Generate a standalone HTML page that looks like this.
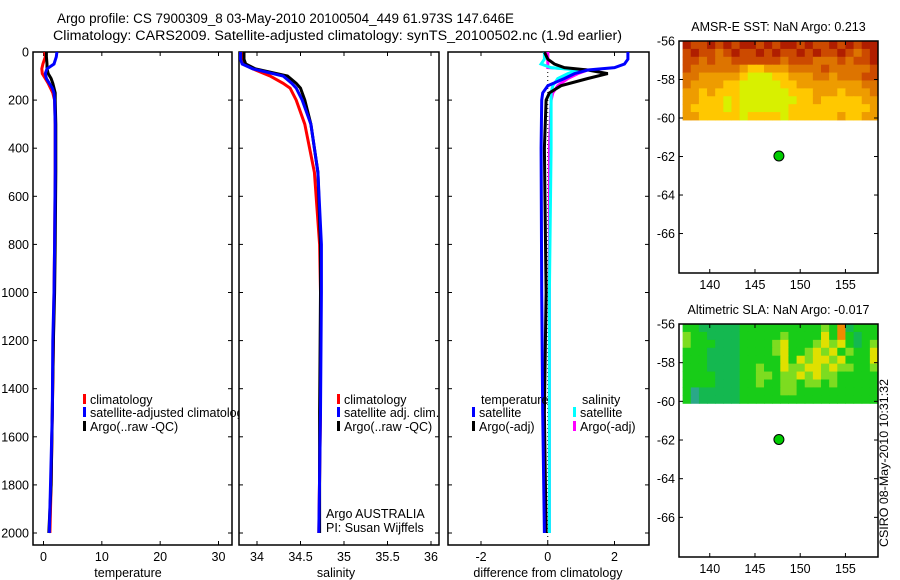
<!DOCTYPE html>
<html><head><meta charset="utf-8">
<style>
body{margin:0;background:#fff;}
svg{display:block;font-family:"Liberation Sans",sans-serif;}
text{fill:#000;}
</style></head>
<body>
<svg id="fig" width="900" height="580" xmlns="http://www.w3.org/2000/svg">
<text x="57" y="23" font-size="13.5" textLength="457" lengthAdjust="spacingAndGlyphs">Argo profile: CS 7900309_8 03-May-2010 20100504_449 61.973S 147.646E</text>
<text x="53" y="40" font-size="13.5" textLength="569" lengthAdjust="spacingAndGlyphs">Climatology: CARS2009. Satellite-adjusted climatology: synTS_20100502.nc (1.9d earlier)</text>
<g id="g1"></g>
<g id="g2"></g>
<g id="g3"></g>
<g id="m1"></g>
<g id="m2"></g>
<text transform="translate(888,463) rotate(-90)" font-size="12" text-anchor="middle" textLength="168" lengthAdjust="spacingAndGlyphs">CSIRO 08-May-2010 10:31:32</text>
</svg>
<script>
// ---- data ----
const depthT = [0,20,50,70,90,110,130,150,170,200,300,500,800,1000,1200,1500,1800,2000];
const tempClim = [0.2,0.3,-0.1,-0.3,-0.2,0.3,0.8,1.2,1.6,1.9,2.0,2.0,1.9,1.8,1.7,1.5,1.3,1.1];
const tempSat = [2.3,2.2,1.8,0.6,0.3,0.5,1.0,1.5,1.8,1.9,2.0,2.0,1.9,1.8,1.6,1.5,1.2,1.0];
const tempArgo = [0.5,0.5,0.6,0.6,0.8,1.3,1.6,1.8,2.0,2.0,2.1,2.1,2.0,1.9,1.7,1.5,1.3,0.9];
const depthS = [0,30,50,70,100,130,150,200,300,500,800,1000,1500,2000];
const salClim = [33.82,33.82,33.85,33.95,34.15,34.3,34.38,34.45,34.55,34.66,34.72,34.73,34.73,34.71];
const salSat = [33.81,33.81,33.83,33.95,34.3,34.4,34.45,34.52,34.62,34.7,34.74,34.74,34.73,34.71];
const salArgo = [33.85,33.85,33.87,33.98,34.35,34.45,34.5,34.55,34.62,34.70,34.73,34.73,34.72,34.72];
const depthD = [0,30,50,65,75,90,110,140,170,200,400,1000,1500,2000];
const dTempSat = [2.4,2.4,2.3,2.0,1.2,0.8,0.5,0.0,-0.15,-0.18,-0.2,-0.18,-0.15,-0.1];
const dTempArgo = [-0.1,0.0,0.2,0.5,1.2,1.8,1.2,0.4,0.05,-0.05,-0.1,-0.05,-0.1,-0.05];
const dSalSat = [-0.1,-0.1,-0.2,0.1,0.9,0.6,0.3,0.15,0.1,0.1,0.1,0.05,0.05,0.05];
const dSalArgo = [0.0,0.0,0.0,0.0,1.2,0.9,0.6,0.3,0.15,0.1,0.05,0.05,0.05,0.05];
const depthTicks = [0,200,400,600,800,1000,1200,1400,1600,1800,2000];
const tempTicks = [0,10,20,30];
const salTicks = [34,34.5,35,35.5,36];
const salTickLabels = ["34","34.5","35","35.5","36"];
const diffTicks = [-2,0,2];
const latTicks = [-56,-58,-60,-62,-64,-66];
const lonTicks = [140,145,150,155];
const floatLon = 147.646, floatLat = -61.973;
const sstGrid = [
"011010100101001011010100","101121011010110101101210","112122111111211122212110",
"122222234433322221222221","223333345554433322322211","233334455555443333333322",
"334344455555544433343332","334445455555554434444433","344445455555544444444443",
"334444454444544444434433"];
const slaGrid = [
"221111122222222223251222","322111122222322224252122","322211122223422234342123",
"222111122223422343423224","222111122222424344342224","222111122322433443433223",
"222211122332334343322222","222211122322332332322222","201111122222332222222222",
"201111122222222222222222"];
const sstColors = ["#b01e00","#cc4a00","#dd7400","#ee9c00","#ffc800","#d8f000"];
const slaColors = ["#2aa888","#14b850","#18cc18","#7ddc20","#e0e000","#ee8a00"];
// ---- helpers ----
const NS="http://www.w3.org/2000/svg";
function mk(tag,attrs,parent){const e=document.createElementNS(NS,tag);for(const k in attrs)e.setAttribute(k,attrs[k]);parent.appendChild(e);return e;}
function lin(d0,d1,r0,r1){return v=>r0+(v-d0)*(r1-r0)/(d1-d0);}
const yD = lin(0,2000,52,533);
function frame(g,x0,x1,y0,y1){
  const r=mk('rect',{x:x0,y:y0,width:x1-x0,height:y1-y0,fill:'none',stroke:'#000','stroke-width':1.5},g);
  
  
}
function xticks(g,xs,vals,labels,y0,y1){
  vals.forEach((v,i)=>{const x=xs(v);
    mk('line',{x1:x,x2:x,y1:y1,y2:y1-4,stroke:'#000'},g);
    mk('line',{x1:x,x2:x,y1:y0,y2:y0+4,stroke:'#000'},g);
    const t=mk('text',{x:x,y:y1+16,'font-size':12.5,'text-anchor':'middle'},g);
    t.textContent=labels[i];
    
    
  });
}
function yticks(g,ys,vals,x0,x1,labels){
  vals.forEach((v,i)=>{const y=ys(v);
    mk('line',{x1:x0,x2:x0+4,y1:y,y2:y,stroke:'#000'},g);
    mk('line',{x1:x1,x2:x1-4,y1:y,y2:y,stroke:'#000'},g);
    if(labels){const t=mk('text',{x:x0-4,y:y+4.5,'font-size':12.5,'text-anchor':'end'},g);
      t.textContent=labels[i];
      
      }
  });
}
function line(g,xs,vals,depths,color,name){
  const pts=vals.map((v,i)=>xs(v).toFixed(1)+','+yD(depths[i]).toFixed(1)).join(' ');
  const p=mk('polyline',{points:pts,fill:'none',stroke:color,'stroke-width':3},g);
  
  
}
function label(g,x,y,txt,name,size,anchor){
  const t=mk('text',{x:x,y:y,'font-size':size||12.5,'text-anchor':anchor||'start'},g);
  t.textContent=txt;
  
  
}
function legendEntry(g,x,y,color,txt){
  mk('rect',{x:x,y:y-10,width:3,height:10,fill:color},g);
  const t=mk('text',{x:x+7,y:y,'font-size':12.5},g);
  t.textContent=txt;
  
  
}
// ---- panel 1 ----
const g1=document.getElementById('g1');
const xT=lin(0,30,43.5,218.5);
frame(g1,33,232,52,545);
yticks(g1,yD,depthTicks,33,232,depthTicks.map(String));
xticks(g1,xT,tempTicks,tempTicks.map(String),52,545);
line(g1,xT,tempClim,depthT,'#ff0000','temp-climatology-line');
line(g1,xT,tempArgo,depthT,'#000000','temp-argo-line');
line(g1,xT,tempSat,depthT,'#0000ff','temp-satellite-line');
const l1=mk('svg',{x:0,y:0,width:239,height:580,overflow:'hidden'},g1);
legendEntry(l1,83,404,'#ff0000','climatology');
legendEntry(l1,83,417,'#0000ff','satellite-adjusted climatology');
legendEntry(l1,83,431,'#000000','Argo(..raw -QC)');
label(g1,128,577,'temperature','x-axis-title',12.5,'middle');
// ---- panel 2 ----
const g2=document.getElementById('g2');
const xS=lin(34,36,257,431);
frame(g2,239,439,52,545);
yticks(g2,yD,depthTicks,239,439,null);
xticks(g2,xS,salTicks,salTickLabels,52,545);
line(g2,xS,salClim,depthS,'#ff0000','sal-climatology-line');
line(g2,xS,salArgo,depthS,'#000000','sal-argo-line');
line(g2,xS,salSat,depthS,'#0000ff','sal-satellite-line');
legendEntry(g2,337,404,'#ff0000','climatology');
legendEntry(g2,337,417,'#0000ff','satellite adj. clim.');
legendEntry(g2,337,431,'#000000','Argo(..raw -QC)');
label(g2,326,518,'Argo AUSTRALIA','pi-credit-line1');
label(g2,326,532,'PI: Susan Wijffels','pi-credit-line2');
label(g2,336,577,'salinity','x-axis-title',12.5,'middle');
// ---- panel 3 ----
const g3=document.getElementById('g3');
const xDf=lin(-2,2,481,614.5);
frame(g3,448,649,52,545);
yticks(g3,yD,depthTicks,448,649,null);
xticks(g3,xDf,diffTicks,diffTicks.map(String),52,545);
const zl=mk('line',{x1:xDf(0),x2:xDf(0),y1:52,y2:545,stroke:'#000','stroke-dasharray':'1,3'},g3);


line(g3,xDf,dSalArgo,depthD,'#ff00ff','diff-sal-argo-line');
line(g3,xDf,dSalSat,depthD,'#00ffff','diff-sal-satellite-line');
line(g3,xDf,dTempArgo,depthD,'#000000','diff-temp-argo-line');
line(g3,xDf,dTempSat,depthD,'#0000ff','diff-temp-satellite-line');
label(g3,481,404,'temperature','legend-title-temperature');
legendEntry(g3,472,417,'#0000ff','satellite');
legendEntry(g3,472,431,'#000000','Argo(-adj)');
label(g3,582,404,'salinity','legend-title-salinity');
legendEntry(g3,573,417,'#00ffff','satellite');
legendEntry(g3,573,431,'#ff00ff','Argo(-adj)');
label(g3,548,577,'difference from climatology','x-axis-title',12.5,'middle');
// ---- maps ----
function drawMap(id,top,bottom,title,grid,colors){
  const g=document.getElementById(id);
  const L=679,R=878;
  const xs=lin(136.6,158.6,L,R);
  const ysC=lin(-56,-68.05,top,bottom);
  const rows=grid.length, cols=grid[0].length;
  const lon0=137,lon1=158.6,lat0=-56,lat1=-60.1;
  for(let r=0;r<rows;r++)for(let c=0;c<cols;c++){
    const la=lat0+(lat1-lat0)*r/rows, lb=lat0+(lat1-lat0)*(r+1)/rows;
    const oa=lon0+(lon1-lon0)*c/cols, ob=lon0+(lon1-lon0)*(c+1)/cols;
    const cell=mk('rect',{x:xs(oa),y:ysC(la),width:xs(ob)-xs(oa)+0.5,height:ysC(lb)-ysC(la)+0.5,fill:colors[+grid[r][c]]},g);
    
    
  }
  frame(g,L,R,top,bottom);
  yticks(g,ysC,latTicks,L,R,latTicks.map(String));
  xticks(g,xs,lonTicks,lonTicks.map(String),top,bottom);
  const dot=mk('circle',{cx:xs(floatLon),cy:ysC(floatLat),r:5,fill:'#00cc00',stroke:'#000','stroke-width':1},g);
  
  
  label(g,(L+R)/2,top-10,title,'map-title',12.5,'middle');
}
drawMap('m1',41,273,'AMSR-E SST: NaN Argo: 0.213',sstGrid,sstColors);
drawMap('m2',324,557,'Altimetric SLA: NaN Argo: -0.017',slaGrid,slaColors);
</script>
</body></html>
